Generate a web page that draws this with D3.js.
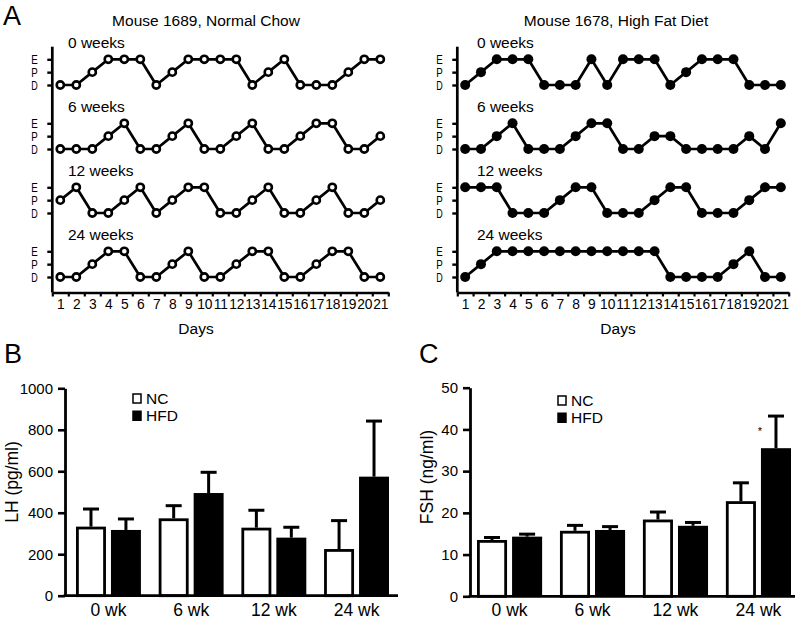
<!DOCTYPE html>
<html><head><meta charset="utf-8">
<script src="https://cdn.jsdelivr.net/npm/d3@7"></script>
<style>
body{margin:0;background:#fff;}
text{font-family:"Liberation Sans",Arial,Helvetica,sans-serif;fill:#000;}
</style></head>
<body><svg id="c" width="800" height="625"></svg>
<script>
// ---------- DATA ----------
const days = [1,2,3,4,5,6,7,8,9,10,11,12,13,14,15,16,17,18,19,20,21];
const stages = ["D","P","E"];
const weekLabels = ["0 weeks","6 weeks","12 weeks","24 weeks"];
const nc0  = ["D","D","P","E","E","E","D","P","E","E","E","E","D","P","E","D","D","D","P","E","E"];
const nc6  = ["D","D","D","P","E","D","D","P","E","D","D","P","E","D","D","P","E","E","D","D","P"];
const nc12 = ["P","E","D","D","P","E","D","P","E","E","D","D","P","E","D","D","P","E","D","D","P"];
const nc24 = ["D","D","P","E","E","D","D","P","E","D","D","P","E","E","D","D","P","E","E","D","D"];
const hfd0  = ["D","P","E","E","E","D","D","D","E","D","E","E","E","D","P","E","E","E","D","D","D"];
const hfd6  = ["D","D","P","E","D","D","D","P","E","E","D","D","P","P","D","D","D","D","P","D","E"];
const hfd12 = ["E","E","E","D","D","D","P","E","E","D","D","D","P","E","E","D","D","D","P","E","E"];
const hfd24 = ["D","P","E","E","E","E","E","E","E","E","E","E","E","D","D","D","D","P","E","D","D"];

const groups = ["0 wk","6 wk","12 wk","24 wk"];
const series = ["NC","HFD"];
const lhNC = [333, 373, 328, 225];
const lhNCerr = [85, 61, 84, 137];
const lhHFD = [317, 495, 280, 574];
const lhHFDerr = [53, 100, 50, 268];
const lhTicks = [0,200,400,600,800,1000];
const fshNC = [13.5, 15.7, 18.4, 22.8];
const fshNCerr = [0.6, 1.3, 1.8, 4.4];
const fshHFD = [14.3, 15.9, 16.9, 35.5];
const fshHFDerr = [0.6, 0.8, 0.8, 7.7];
const fshTicks = [0,10,20,30,40,50];

// ---------- DRAW ----------
const FONT = "Liberation Sans, Arial, sans-serif";
const svg = d3.select("#c");
svg.append("rect").attr("width",800).attr("height",625).attr("fill","#fff");

// Panel letters
svg.append("text").attr("x",3).attr("y",25).attr("font-size",27).text("A");
svg.append("text").attr("x",4).attr("y",363).attr("font-size",27).text("B");
svg.append("text").attr("x",419).attr("y",363).attr("font-size",27).text("C");

function cyclePanel(cfg){
  const g = svg.append("g");
  const x = d3.scaleLinear().domain([0.5,21.5]).range([cfg.x0, cfg.x1]);
  const rowY = d3.scalePoint().domain(weekLabels).range([59.3, 251.3]);
  const yS = d3.scalePoint().domain(stages).range([25.7, 0]);
  const lw = 2.7;
  g.append("text").attr("x",cfg.titleX).attr("y",26).attr("text-anchor","middle")
    .attr("font-size",15.5).text(cfg.title);
  g.append("line").attr("x1",cfg.x0).attr("x2",cfg.x0).attr("y1",46.7).attr("y2",292.5)
    .attr("stroke","#000").attr("stroke-width",lw);
  const axB = g.append("g").attr("transform",`translate(0,292.5)`)
    .call(d3.axisBottom(x).tickValues(d3.range(0.5,21.6,1)).tickFormat("").tickSize(4).tickSizeOuter(0));
  axB.select(".domain").attr("stroke-width",lw);
  axB.selectAll(".tick line").attr("stroke-width",2.2);
  const axL = g.append("g").attr("transform",`translate(0,292.5)`)
    .call(d3.axisBottom(x).tickValues(days).tickSize(0).tickPadding(7));
  axL.select(".domain").remove();
  axL.selectAll("text").attr("font-size",13.8).attr("font-family",FONT).attr("fill","#000");
  g.append("text").attr("x",cfg.daysX).attr("y",334).attr("text-anchor","middle").attr("font-size",15.5).text("Days");

  cfg.data.forEach((arr,i)=>{
    const wk = weekLabels[i];
    const top = rowY(wk);
    g.append("text").attr("x",cfg.weeksX).attr("y",top-11).attr("font-size",15.5).text(wk);
    const ax = g.append("g").attr("transform",`translate(${cfg.x0},${top})`)
      .call(d3.axisLeft(yS).tickSize(5).tickFormat(""));
    ax.select(".domain").remove();
    ax.selectAll(".tick line").attr("stroke-width",2.4);
    stages.forEach(s=>{
      g.append("text").attr("x",cfg.x0-21).attr("y",top+yS(s)+4.6)
        .attr("font-size",12.5).attr("textLength",6.5).attr("lengthAdjust","spacingAndGlyphs").text(s);
    });
    const line = d3.line().x((d,j)=>x(days[j])).y(d=>top+yS(d));
    g.append("path").attr("d",line(arr)).attr("fill","none").attr("stroke","#000")
      .attr("stroke-width",2.7).attr("stroke-linejoin","round");
    g.selectAll(null).data(arr).enter().append("circle")
      .attr("cx",(d,j)=>x(days[j])).attr("cy",d=>top+yS(d))
      .attr("r",cfg.filled?5:3.6)
      .attr("fill",cfg.filled?"#000":"#fff").attr("stroke","#000").attr("stroke-width",cfg.filled?0:2.6);
  });
}
cyclePanel({x0:52.3,x1:388.3,title:"Mouse 1689, Normal Chow",titleX:206,weeksX:68,daysX:196,
  data:[nc0,nc6,nc12,nc24],filled:false});
cyclePanel({x0:457.3,x1:788.7,title:"Mouse 1678, High Fat Diet",titleX:616,weeksX:477,daysX:618,
  data:[hfd0,hfd6,hfd12,hfd24],filled:true});

function barPanel(cfg){
  const g = svg.append("g");
  const y = d3.scaleLinear().domain(cfg.domain).range([cfg.yb, cfg.yt]);
  const x = d3.scaleBand().domain(groups).range([cfg.b0, cfg.b1]).paddingInner(0.215).paddingOuter(0);
  const xs = d3.scaleBand().domain(series).range([0, x.bandwidth()]).paddingInner(0.143);
  const lw = 2.8;
  const vals = {NC:cfg.nc, HFD:cfg.hfd}, errs = {NC:cfg.ncErr, HFD:cfg.hfdErr};
  series.forEach(s=>{
    groups.forEach((gr,i)=>{
      const bx = x(gr)+xs(s), bw = xs.bandwidth(), cx = bx+bw/2;
      const v = vals[s][i], e = errs[s][i];
      g.append("line").attr("x1",cx).attr("x2",cx).attr("y1",y(v)).attr("y2",y(v+e))
        .attr("stroke","#000").attr("stroke-width",3);
      g.append("line").attr("x1",cx-8).attr("x2",cx+8).attr("y1",y(v+e)).attr("y2",y(v+e))
        .attr("stroke","#000").attr("stroke-width",3);
      if(s==="NC"){
        g.append("rect").attr("x",bx+1.4).attr("y",y(v)+1.4).attr("width",bw-2.8).attr("height",y(0)-y(v)-1.4)
          .attr("fill","#fff").attr("stroke","#000").attr("stroke-width",lw);
      } else {
        g.append("rect").attr("x",bx).attr("y",y(v)).attr("width",bw).attr("height",y(0)-y(v)).attr("fill","#000");
      }
    });
  });
  const ay = g.append("g").attr("transform",`translate(${cfg.ax},0)`)
    .call(d3.axisLeft(y).tickValues(cfg.ticks).tickFormat(d3.format("d")).tickSize(7).tickSizeOuter(0).tickPadding(5));
  ay.select(".domain").attr("stroke-width",lw);
  ay.selectAll(".tick line").attr("stroke-width",2.6);
  ay.selectAll("text").attr("font-size",15).attr("font-family",FONT).attr("fill","#000");
  g.append("line").attr("x1",cfg.ax-1.4).attr("x2",cfg.axEnd).attr("y1",y(0)).attr("y2",y(0))
    .attr("stroke","#000").attr("stroke-width",lw);
  const axx = g.append("g").attr("transform",`translate(0,${y(0)})`)
    .call(d3.axisBottom(x).tickSize(0).tickPadding(5));
  axx.select(".domain").remove();
  axx.selectAll("text").attr("font-size",17.5).attr("dy","0.85em").attr("font-family",FONT).attr("fill","#000");
  g.append("text").attr("transform",`translate(${cfg.labX},${cfg.labY}) rotate(-90)`)
    .attr("text-anchor","middle").attr("font-size",17.5).text(cfg.label);
  g.append("rect").attr("x",cfg.lgX).attr("y",cfg.lgY).attr("width",8).attr("height",9)
    .attr("fill","#fff").attr("stroke","#000").attr("stroke-width",1.5);
  g.append("rect").attr("x",cfg.lgX-0.75).attr("y",cfg.lgY+16.5).attr("width",9.5).attr("height",10.5).attr("fill","#000");
  g.append("text").attr("x",cfg.lgX+13).attr("y",cfg.lgY+9.5).attr("font-size",15.5).text("NC");
  g.append("text").attr("x",cfg.lgX+13).attr("y",cfg.lgY+26.5).attr("font-size",15.5).text("HFD");
  return {x,xs,y,g};
}
barPanel({domain:[0,1000],yb:595.7,yt:388.3,b0:76,b1:389,ax:65,axEnd:398,ticks:lhTicks,
  nc:lhNC,ncErr:lhNCerr,hfd:lhHFD,hfdErr:lhHFDerr,label:"LH (pg/ml)",labX:18,labY:482,lgX:133,lgY:394});
const c = barPanel({domain:[0,50],yb:596.3,yt:387.7,b0:477,b1:791,ax:470,axEnd:795,ticks:fshTicks,
  nc:fshNC,ncErr:fshNCerr,hfd:fshHFD,hfdErr:fshHFDerr,label:"FSH (ng/ml)",labX:433,labY:477,lgX:558,lgY:396});
c.g.append("text").attr("x",c.x("24 wk")+c.xs("HFD")-1).attr("y",c.y(40)+6).attr("font-size",11)
  .attr("text-anchor","middle").text("*");
</script></body></html>
